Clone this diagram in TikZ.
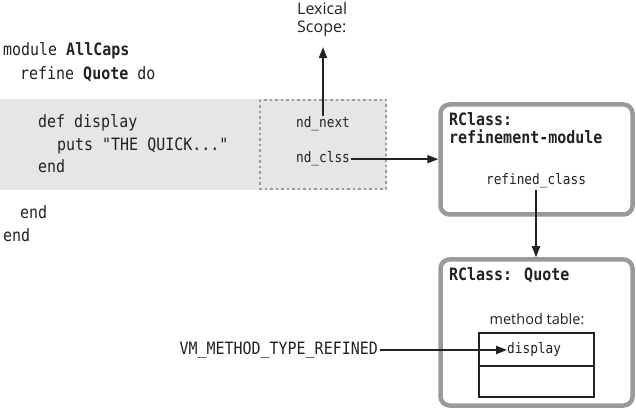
\documentclass[tikz,border=0pt]{standalone}
\usepackage{fontspec}
\usetikzlibrary{arrows.meta}
\newfontfamily\codef[FakeStretch=0.88]{DejaVu Sans Mono}
\newfontfamily\labf{Open Sans}
\definecolor{band}{HTML}{E6E6E6}
\definecolor{boxgray}{HTML}{9A9A9A}
\definecolor{ink}{HTML}{222222}
\tikzset{
  code/.style={anchor=base west,inner sep=0pt,font=\codef\fontsize{17}{20}\selectfont,text=ink},
  small/.style={anchor=base,inner sep=1pt,font=\codef\fontsize{14.5}{17}\selectfont,text=ink},
  title/.style={anchor=base west,inner sep=0pt,font=\codef\bfseries\fontsize{17}{20}\selectfont,text=ink},
  lab/.style={inner sep=0pt,font=\labf\fontsize{16}{18}\selectfont,text=ink,align=left},
  rbox/.style={draw=boxgray,line width=4.5pt,rounded corners=9pt,fill=white,inner sep=0pt},
  conn/.style={draw=ink,line width=1.8pt,-{Triangle[length=11pt,width=8pt]}}
}
\begin{document}
\begin{tikzpicture}[x=1pt,y=-1pt]
\useasboundingbox (0,0) rectangle (636,411);
% band
\fill[band] (0,99) rectangle (387,190);
\draw[boxgray,line width=1.5pt,dash pattern=on 2.5pt off 3pt] (260,100) rectangle (386,189);
% code
\node[code] (c1) at (3,56) {module \textbf{AllCaps}};
\node[code] (c2) at (20,80) {refine \textbf{Quote} do};
\node[code] (c3) at (38,128) {def display};
\node[code] (c4) at (57,151) {puts "THE QUICK..."};
\node[code] (c5) at (38,173) {end};
\node[code] (c6) at (20,219) {end};
\node[code] (c7) at (3,242) {end};
% nd fields
\node[small] (ndnext) at (323,128) {nd\_next};
\node[small] (ndclss) at (323,163) {nd\_clss};
\node[lab,anchor=base west] (lex) at (297,33) {Lexical\\Scope:};
% boxes
\node[rbox,minimum width=192pt,minimum height=110pt] (rm) at (536.5,159.5) {};
\node[title] (rmt1) at (449,126) {RClass:};
\node[title] (rmt2) at (449,144) {refinement-module};
\node[small] (rc) at (536,185) {refined\_class};
\node[rbox,minimum width=192pt,minimum height=146pt] (q) at (536.5,332.5) {};
\node[title] (qt) at (449,280) {RClass: Quote};
\node[lab,anchor=base,font=\labf\fontsize{14.5}{17}\selectfont] (mt) at (537,324) {method table:};
\node[draw=ink,line width=1.5pt,minimum width=115pt,minimum height=64pt,inner sep=0pt] (tbl) at (536.5,365) {};
\draw[ink,line width=1.5pt] (tbl.west |- 0,366) -- (tbl.east |- 0,366);
\node[small,anchor=base west,inner sep=0pt] (disp) at (507,353) {display};
\node[code,anchor=east] (vm) at (378,350) {VM\_METHOD\_TYPE\_REFINED};
% connectors
\draw[conn,shorten >=10pt] (ndnext.north) -- (lex.south -| ndnext.north);
\draw[conn] (ndclss.east) -- (ndclss.east -| rm.west);
\draw[conn] (rc.south) -- (rc.south |- q.north);
\draw[conn] (vm.east) ++(2,0) -- (disp.west |- vm.east);
\end{tikzpicture}
\end{document}
